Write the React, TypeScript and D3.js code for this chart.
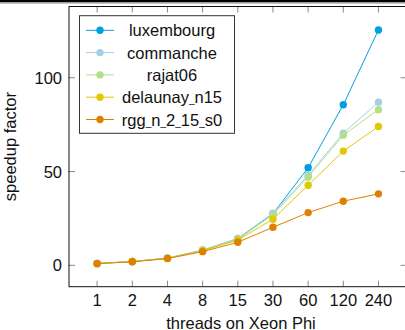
import React from "react";
import * as d3 from "d3";

const threads = ["1", "2", "4", "8", "15", "30", "60", "120", "240"];
const seriesNames = ["luxembourg", "commanche", "rajat06", "delaunay_n15", "rgg_n_2_15_s0"];
const luxembourg = [1, 2, 3.8, 8, 14, 27.5, 52, 85.6, 125.5];
const commanche = [1, 2, 3.8, 8.2, 14.4, 27.8, 48, 70.5, 87];
const rajat06 = [1, 2, 3.8, 8, 14, 27, 47, 69.4, 83];
const delaunay = [1, 2, 3.7, 7.8, 13.5, 24.6, 42.7, 60.9, 74];
const rgg = [0.9, 1.9, 3.6, 7.3, 12.3, 20.3, 28.1, 34.2, 38.1];
const yTicks = [0, 50, 100];
const colors = ["#00a0df", "#a6cee3", "#b2df8a", "#e2c800", "#e08000"];

const allSeries = [luxembourg, commanche, rajat06, delaunay, rgg];

const W = 405;
const H = 330;
const left = 69;
const right = 406.6;
const top = 6.5;
const bottom = 286.7;
const font = "'Liberation Sans', Arial, sans-serif";

// TeX style underscores: short and low
function texLabel(name: string) {
  const parts = name.split("_");
  const out: React.ReactNode[] = [];
  parts.forEach((p, i) => {
    if (i > 0)
      out.push(
        <tspan key={"u" + i} fontSize={10}>
          _
        </tspan>
      );
    out.push(<tspan key={"p" + i}>{p}</tspan>);
  });
  return out;
}

export default function App() {
  const x = d3.scalePoint<string>().domain(threads).range([left, right]).padding(0.8);
  const y = d3.scaleLinear().domain([-11.4, 138]).range([bottom, top]);
  const line = d3
    .line<number>()
    .x((_, i) => x(threads[i])!)
    .y((d) => y(d));

  const legendX = 79.5;
  const legendY = 15.7;
  const legendW = 155;
  const legendH = 117.6;
  const rowH = 22.3;

  return (
    <svg
      width={W}
      height={H}
      style={{ position: "absolute", left: 0, top: 0, fontFamily: font }}
    >
      <rect x={0} y={0} width={W} height={2.4} fill="#000" />
      <line x1={0} x2={W} y1={3.2} y2={3.2} stroke="#aaa" strokeWidth={1} />

      {/* ticks */}
      {threads.map((t) => (
        <g key={t} stroke="#888" strokeWidth={1}>
          <line x1={x(t)} x2={x(t)} y1={bottom} y2={bottom - 6} />
          <line x1={x(t)} x2={x(t)} y1={top} y2={top + 6} />
        </g>
      ))}
      {yTicks.map((v) => (
        <g key={v} stroke="#888" strokeWidth={1}>
          <line x1={left - 1} x2={left + 6} y1={y(v)} y2={y(v)} />
          <line x1={right + 1} x2={right - 6} y1={y(v)} y2={y(v)} />
        </g>
      ))}

      {/* series */}
      {allSeries.map((s, k) => (
        <g key={seriesNames[k]}>
          <path d={line(s)!} fill="none" stroke={colors[k]} strokeWidth={1} />
          {s.map((v, i) => (
            <circle key={i} cx={x(threads[i])} cy={y(v)} r={3.7} fill={colors[k]} />
          ))}
        </g>
      ))}

      <rect
        x={left}
        y={top}
        width={right - left}
        height={bottom - top}
        fill="none"
        stroke="#111"
        strokeWidth={1}
      />

      {/* tick labels */}
      {threads.map((t) => (
        <text key={t} x={x(t)} y={306} fontSize={16.5} textAnchor="middle" fill="#111">
          {t}
        </text>
      ))}
      {yTicks.map((v) => (
        <text
          key={v}
          x={62}
          y={y(v) + 6}
          fontSize={16.5}
          textAnchor="end"
          fill="#111"
        >
          {v}
        </text>
      ))}

      <text x={241} y={328.5} fontSize={16.5} textAnchor="middle" fill="#111">
        threads on Xeon Phi
      </text>
      <text
        transform={`translate(16,${(top + bottom) / 2}) rotate(-90)`}
        fontSize={16.5}
        textAnchor="middle"
        fill="#111"
      >
        speedup factor
      </text>

      {/* legend */}
      <rect
        x={legendX}
        y={legendY}
        width={legendW}
        height={legendH}
        fill="#fff"
        stroke="#333"
        strokeWidth={1}
      />
      {seriesNames.map((name, k) => {
        const cy = legendY + 14.6 + k * rowH;
        return (
          <g key={name}>
            <line x1={86} x2={114} y1={cy} y2={cy} stroke={colors[k]} strokeWidth={1} />
            <circle cx={100} cy={cy} r={3.7} fill={colors[k]} />
            <text x={172} y={cy + 6} fontSize={16.5} textAnchor="middle" fill="#111">
              {texLabel(name)}
            </text>
          </g>
        );
      })}
    </svg>
  );
}
